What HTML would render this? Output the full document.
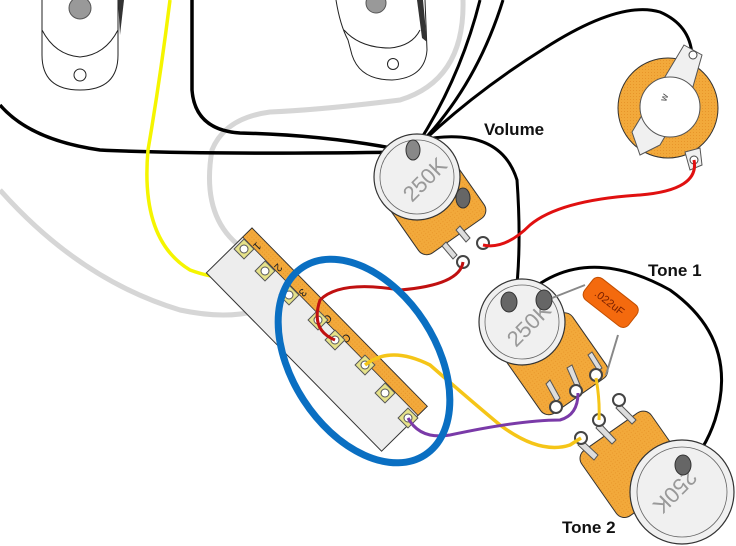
<!DOCTYPE html>
<html><head><meta charset="utf-8"><style>
html,body{margin:0;padding:0;background:#fff;width:736px;height:546px;overflow:hidden}
svg{display:block}
text{font-family:"Liberation Sans",sans-serif}
</style></head><body>
<svg width="736" height="546" viewBox="0 0 736 546" xmlns="http://www.w3.org/2000/svg">
<defs>
<pattern id="or" width="3" height="3" patternUnits="userSpaceOnUse"><rect width="3" height="3" fill="#f2a93b"/><rect width="1" height="1" fill="#e8952a"/></pattern>
</defs>
<!-- pickups -->
<path d="M42,0 L42,55 Q42,90 80,90 Q118,90 118,55 L118,0" fill="#fff" stroke="#222" stroke-width="1"/>
<path d="M42,30 Q55,55 80,57 Q105,55 118,30" fill="none" stroke="#222" stroke-width="1"/>
<circle cx="80" cy="8" r="11" fill="#999" stroke="#555"/>
<circle cx="80" cy="75" r="6" fill="#fff" stroke="#222"/>
<path d="M118,0 L124,0 L120,35 Z" fill="#333"/>
<path d="M336,0 Q340,25 348,40 L352,55 Q360,80 392,80 Q425,78 427,50 L425,0" fill="#fff" stroke="#222" stroke-width="1"/>
<path d="M344,30 Q360,48 390,48 Q412,46 420,30" fill="none" stroke="#222"/>
<circle cx="376" cy="3" r="10" fill="#999" stroke="#555"/>
<circle cx="393" cy="64" r="5.5" fill="#fff" stroke="#222"/>
<path d="M417,0 L423,0 L427,42 L422,38 Z" fill="#333"/>
<!-- gray wires -->
<path d="M0,190 Q80,280 180,310 Q250,325 290,295" fill="none" stroke="#d6d6d6" stroke-width="5"/>
<path d="M463,0 Q465,80 400,100 Q320,110 270,112 Q225,118 212,150 Q200,220 245,250" fill="none" stroke="#d6d6d6" stroke-width="5"/>
<!-- black wires -->
<path d="M0,105 Q30,140 100,150 Q200,155 412,152" fill="none" stroke="#000" stroke-width="3.5"/>
<path d="M192,0 L192,90 Q195,130 240,133 Q330,135 412,152" fill="none" stroke="#000" stroke-width="3.5"/>
<path d="M480,0 Q460,80 414,150 M503,0 Q475,90 414,150 M545,48 Q470,95 414,150" fill="none" stroke="#000" stroke-width="3"/>
<path d="M545,48 Q620,0 660,12 Q690,25 692,55" fill="none" stroke="#000" stroke-width="3"/>
<path d="M420,140 Q500,125 517,180 Q522,250 515,302" fill="none" stroke="#000" stroke-width="3"/>
<path d="M520,300 Q580,240 670,290 Q740,340 715,420 Q705,450 685,470" fill="none" stroke="#000" stroke-width="3"/>
<!-- yellow from top -->
<path d="M170,0 Q160,80 148,150 Q140,240 190,270 Q230,285 265,272" fill="none" stroke="#f5f500" stroke-width="3.5"/>
<!-- switch -->
<g transform="translate(252,228) rotate(45.5)">
<rect x="0" y="0" width="250" height="64" fill="#ededed" stroke="#333" stroke-width="1"/>
<rect x="0" y="0" width="250" height="13" fill="url(#or)" stroke="#333" stroke-width="0.8"/>
<text x="17" y="10" font-size="11" fill="#222" transform="rotate(90 17 6)">1</text>
<text x="47" y="10" font-size="11" fill="#222" transform="rotate(90 47 6)">2</text>
<text x="82" y="10" font-size="11" fill="#222" transform="rotate(90 82 6)">3</text>
<text x="118" y="10" font-size="11" fill="#222" transform="rotate(90 118 6)">C</text>
<text x="145" y="10" font-size="11" fill="#222" transform="rotate(90 145 6)">C</text>
</g>
<g fill="#e6e28a" stroke="#555" stroke-width="1">
<rect x="237" y="242" width="14" height="14" transform="rotate(45 244 249)"/>
<rect x="258" y="264" width="14" height="14" transform="rotate(45 265 271)"/>
<rect x="282" y="288" width="14" height="14" transform="rotate(45 289 295)"/>
<rect x="311" y="313" width="14" height="14" transform="rotate(45 318 320)"/>
<rect x="328" y="333" width="14" height="14" transform="rotate(45 335 340)"/>
<rect x="358" y="358" width="14" height="14" transform="rotate(45 365 365)"/>
<rect x="378" y="386" width="14" height="14" transform="rotate(45 385 393)"/>
<rect x="401" y="411" width="14" height="14" transform="rotate(45 408 418)"/>
</g>
<g fill="#fff" stroke="#555" stroke-width="1">
<circle cx="244" cy="249" r="4"/><circle cx="265" cy="271" r="4"/><circle cx="289" cy="295" r="4"/><circle cx="318" cy="320" r="4"/><circle cx="335" cy="340" r="4"/><circle cx="365" cy="365" r="4"/><circle cx="385" cy="393" r="4"/><circle cx="408" cy="418" r="4"/>
</g>
<!-- volume pot -->
<g transform="rotate(-35 418 180)">
<rect x="378" y="170" width="80" height="78" rx="10" fill="url(#or)" stroke="#333"/>
</g>
<circle cx="417" cy="177" r="43" fill="#f0f0f0" stroke="#333" stroke-width="1.2"/>
<circle cx="417" cy="177" r="37" fill="#f0f0f0" stroke="#666" stroke-width="0.8"/>
<text x="0" y="0" font-size="22" fill="#999" transform="translate(412,203) rotate(-45)">250K</text>
<ellipse cx="413" cy="150" rx="7" ry="10" fill="#888" stroke="#333"/>
<ellipse cx="463" cy="198" rx="7" ry="10" fill="#666" stroke="#333"/>
<g stroke="#555" fill="#ddd"><path d="M460,226 L470,238 L466,242 L456,230Z"/><path d="M446,242 L457,255 L453,259 L442,246Z"/></g>
<circle cx="483" cy="243" r="6" fill="#fff" stroke="#444" stroke-width="2"/>
<circle cx="463" cy="262" r="6" fill="#fff" stroke="#444" stroke-width="2"/>
<!-- output jack -->
<circle cx="668" cy="108" r="50" fill="url(#or)" stroke="#333"/>
<path d="M684,45 L702,55 L692,90 L660,145 L640,155 L632,132 Z" fill="#f0f0f0" stroke="#555"/>
<circle cx="670" cy="107" r="30" fill="#fff" stroke="#555"/>
<text x="0" y="0" font-size="10" fill="#444" transform="translate(666,102) rotate(-70)">w</text>
<circle cx="693" cy="55" r="4" fill="#fff" stroke="#444"/>
<path d="M685,152 L700,148 L702,165 L690,170Z" fill="#f0f0f0" stroke="#555"/>
<circle cx="694" cy="160" r="4" fill="#fff" stroke="#444"/>
<!-- red wires -->
<path d="M694,160 Q700,190 640,195 Q560,200 530,225 Q505,250 483,245" fill="none" stroke="#e01010" stroke-width="3"/>
<path d="M463,262 Q460,285 400,290 Q340,280 320,300 Q310,330 335,340" fill="none" stroke="#c01010" stroke-width="3"/>
<!-- tone1 pot -->
<g transform="rotate(-35 540 340)">
<rect x="500" y="330" width="80" height="78" rx="10" fill="url(#or)" stroke="#333"/>
</g>
<circle cx="522" cy="322" r="43" fill="#f0f0f0" stroke="#333" stroke-width="1.2"/>
<circle cx="522" cy="322" r="37" fill="#f0f0f0" stroke="#666" stroke-width="0.8"/>
<text x="0" y="0" font-size="22" fill="#999" transform="translate(516,348) rotate(-45)">250K</text>
<ellipse cx="509" cy="302" rx="8" ry="10" fill="#666" stroke="#333"/>
<ellipse cx="544" cy="300" rx="8" ry="10" fill="#666" stroke="#333"/>
<!-- capacitor -->
<g transform="rotate(38 611 302)"><rect x="583" y="289" width="56" height="27" rx="7" fill="#f46a0e" stroke="#c24e00"/>
<text x="593" y="307" font-size="11" fill="#7a2000">.022uF</text></g>
<path d="M552,298 L585,285 M618,335 L606,375" stroke="#888" stroke-width="2"/>
<g stroke="#555" fill="#ddd"><path d="M550,380 L560,398 L556,402 L546,384Z"/><path d="M572,365 L580,385 L576,388 L567,368Z"/><path d="M592,352 L602,368 L598,371 L588,355Z"/></g>
<circle cx="556" cy="407" r="6" fill="#fff" stroke="#444" stroke-width="2"/>
<circle cx="576" cy="391" r="6" fill="#fff" stroke="#444" stroke-width="2"/>
<circle cx="596" cy="375" r="6" fill="#fff" stroke="#444" stroke-width="2"/>
<!-- tone2 pot -->
<g transform="rotate(-35 640 460)">
<rect x="590" y="420" width="85" height="80" rx="10" fill="url(#or)" stroke="#333"/>
</g>
<circle cx="682" cy="492" r="52" fill="#f0f0f0" stroke="#333" stroke-width="1.2"/>
<circle cx="682" cy="492" r="45" fill="#f0f0f0" stroke="#666" stroke-width="0.8"/>
<text x="0" y="0" font-size="22" fill="#999" transform="translate(688,468) rotate(135)">250K</text>
<ellipse cx="683" cy="465" rx="8" ry="10" fill="#666" stroke="#333"/>
<g stroke="#555" fill="#ddd"><path d="M582,440 L598,455 L594,460 L578,445Z"/><path d="M600,423 L616,440 L612,444 L596,428Z"/><path d="M620,404 L636,420 L632,424 L616,408Z"/></g>
<circle cx="581" cy="438" r="6" fill="#fff" stroke="#444" stroke-width="2"/>
<circle cx="599" cy="420" r="6" fill="#fff" stroke="#444" stroke-width="2"/>
<circle cx="619" cy="400" r="6" fill="#fff" stroke="#444" stroke-width="2"/>
<!-- yellow / purple -->
<path d="M365,365 Q390,345 430,365 Q470,400 500,425 Q540,455 570,445 L581,438" fill="none" stroke="#f5c518" stroke-width="3.5"/>
<path d="M596,378 Q600,400 599,420" fill="none" stroke="#f5c518" stroke-width="3"/>
<path d="M408,418 Q420,440 450,435 Q520,420 560,420 Q578,415 578,393" fill="none" stroke="#7a3aa8" stroke-width="3"/>
<!-- blue ellipse -->
<ellipse cx="364" cy="361" rx="72" ry="112" transform="rotate(-33 364 361)" fill="none" stroke="#0a6fc2" stroke-width="7"/>
<!-- labels -->
<text x="484" y="135" font-size="17" font-weight="bold" fill="#111">Volume</text>
<text x="648" y="276" font-size="17" font-weight="bold" fill="#111">Tone 1</text>
<text x="562" y="533" font-size="17" font-weight="bold" fill="#111">Tone 2</text>
</svg>
</body></html>
